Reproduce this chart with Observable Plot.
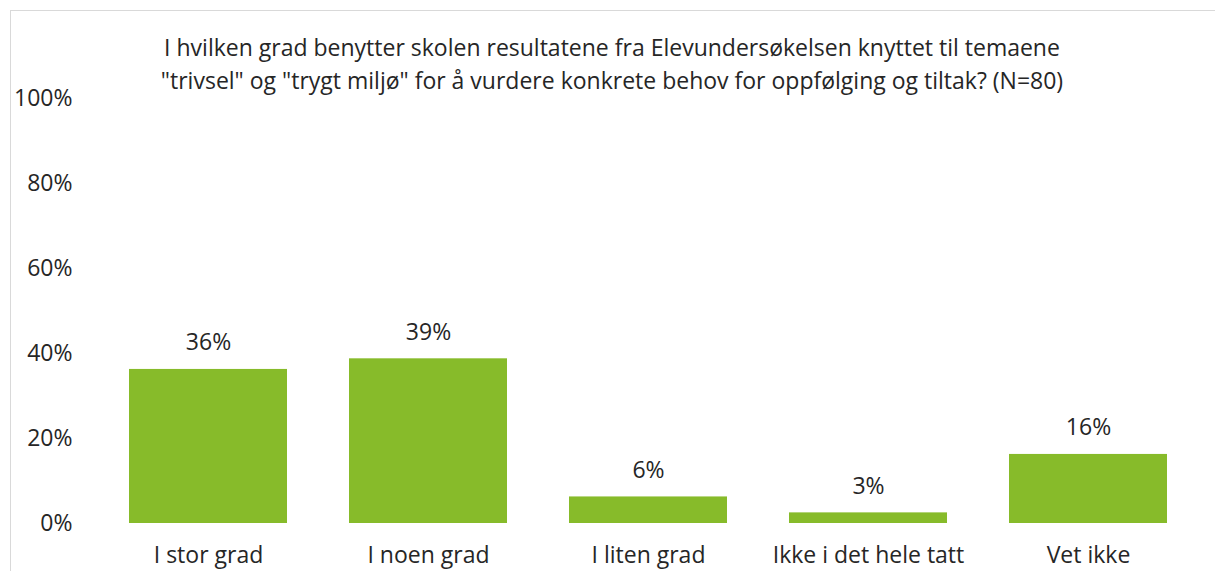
<!DOCTYPE html>
<html><head><meta charset="utf-8">
<script src="https://cdn.jsdelivr.net/npm/d3@7"></script>
<script src="https://cdn.jsdelivr.net/npm/@observablehq/plot@0.6"></script>
<style>
html,body{margin:0;padding:0;overflow:hidden;background:#fff;}
#wrap{position:relative;width:1215px;height:571px;font-family:"Open Sans",sans-serif;color:#262626;overflow:hidden;}
#frame{position:absolute;left:10px;top:10px;width:1300px;height:700px;border-left:1px solid #d9d9d9;border-top:1px solid #d9d9d9;}
#title{position:absolute;left:0;top:31px;width:1224px;text-align:center;font-size:23px;line-height:33px;z-index:2;}
#chart{position:absolute;left:0;top:0;z-index:1;}
</style></head>
<body>
<div id="wrap">
  <div id="frame"></div>
  <div id="title">I hvilken grad benytter skolen resultatene fra Elevundersøkelsen knyttet til temaene<br>"trivsel" og "trygt miljø" for å vurdere konkrete behov for oppfølging og tiltak? (N=80)</div>
  <div id="chart"></div>
</div>
<script>
const categories = ["I stor grad", "I noen grad", "I liten grad", "Ikke i det hele tatt", "Vet ikke"];
const values = [36.25, 38.75, 6.25, 2.5, 16.25];
const valueLabels = ["36%", "39%", "6%", "3%", "16%"];
const yTicks = [0, 20, 40, 60, 80, 100];

const data = categories.map((c, i) => ({category: c, value: values[i], label: valueLabels[i]}));

const chart = Plot.plot({
  width: 1215,
  height: 571,
  marginTop: 98,
  marginBottom: 48,
  marginLeft: 98,
  marginRight: 17,
  style: {fontFamily: "'Open Sans', sans-serif", fontSize: "23px", color: "#262626", background: "transparent", overflow: "visible"},
  x: {domain: categories, paddingInner: 0.28, paddingOuter: 0.14, label: null},
  y: {domain: [0, 100], label: null},
  marks: [
    Plot.axisY({ticks: yTicks, tickFormat: d => d + "%", tickSize: 0, tickPadding: 26, fontSize: 23, label: null}),
    Plot.axisX({tickSize: 0, tickPadding: 23, fontSize: 23, label: null}),
    Plot.barY(data, {x: "category", y: "value", fill: "#87bb2a"}),
    Plot.text(data, {x: "category", y: "value", text: "label", lineAnchor: "bottom", dy: -19, fontSize: 23, fill: "#262626"})
  ]
});
document.getElementById("chart").appendChild(chart);
</script>
</body></html>
